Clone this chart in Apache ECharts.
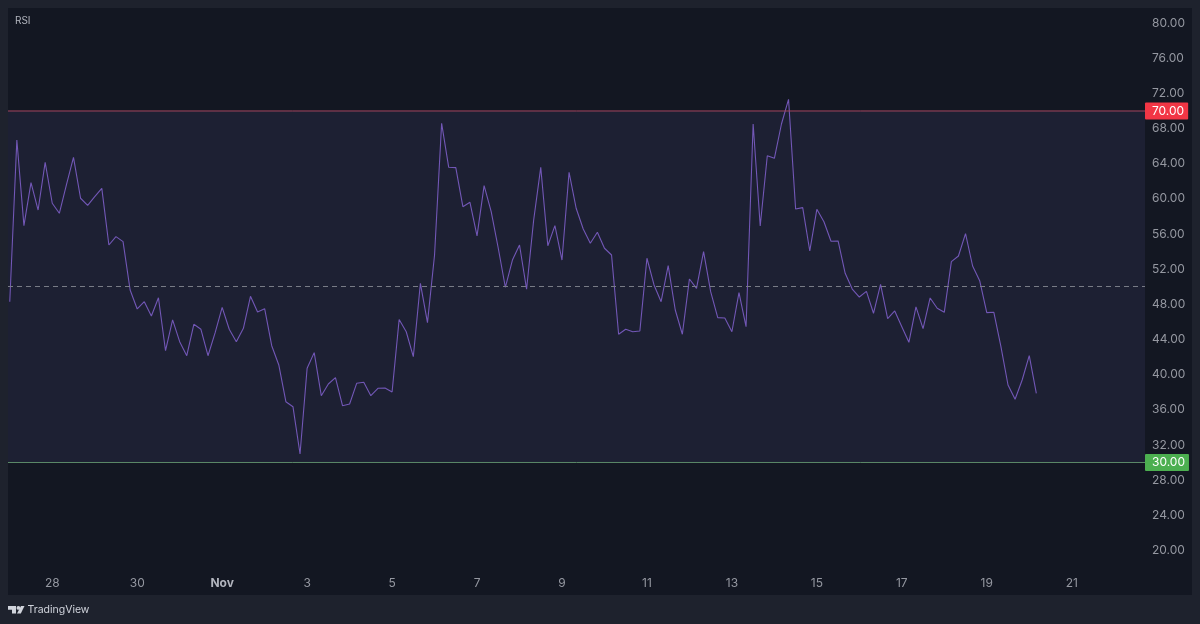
<!DOCTYPE html>
<html>
<head>
<meta charset="utf-8">
<style>
  html, body { margin: 0; padding: 0; background: #1e222d; }
  #chart { width: 1200px; height: 624px; }
</style>
<script src="https://cdn.jsdelivr.net/npm/echarts@6/dist/echarts.min.js"></script>
</head>
<body>
<div id="chart"></div>
<script>
// 4h bars, index 0 = Oct 27 00:00
const rsiValues = [
  48.30, 66.70, 56.95, 61.84, 58.73, 64.16, 59.50, 58.36, 61.58, 64.73,
  60.07, 59.27, 60.25, 61.20, 54.75, 55.70, 55.13, 49.63, 47.47, 48.30,
  46.67, 48.75, 42.72, 46.22, 43.75, 42.15, 45.73, 45.16, 42.15, 44.74,
  47.66, 45.16, 43.75, 45.27, 48.91, 47.13, 47.50, 43.29, 41.10, 36.92,
  36.35, 30.97, 40.72, 42.50, 37.60, 38.93, 39.65, 36.46, 36.66, 39.01,
  39.13, 37.60, 38.44, 38.48, 38.02, 46.27, 44.88, 42.04, 50.39, 45.91,
  53.61, 68.60, 63.59, 63.55, 59.11, 59.61, 55.78, 61.50, 58.54, 54.38,
  49.94, 53.04, 54.75, 49.71, 57.60, 63.59, 54.67, 56.95, 53.04, 63.02,
  58.93, 56.57, 54.94, 56.20, 54.38, 53.61, 44.59, 45.16, 44.88, 44.96,
  53.24, 50.20, 48.30, 52.40, 47.35, 44.59, 50.88, 49.82, 53.99, 49.44,
  46.48, 46.44, 44.88, 49.32, 45.45, 68.52, 56.91, 64.91, 64.62, 68.52,
  71.33, 58.85, 59.00, 54.07, 58.81, 57.40, 55.17, 55.21, 51.53, 49.74,
  48.83, 49.48, 46.98, 50.28, 46.36, 47.24, 45.45, 43.68, 47.70, 45.23,
  48.72, 47.55, 47.09, 52.85, 53.50, 56.04, 52.36, 50.69, 47.05, 47.09,
  43.18, 38.82, 37.19, 39.39, 42.15, 37.87
];
const dateTickIndex = [6, 18, 30, 42, 54, 66, 78, 90, 102, 114, 126, 138, 150];
const dateTickLabels = ['28', '30', 'Nov', '3', '5', '7', '9', '11', '13', '15', '17', '19', '21'];
const priceTicks = [20, 24, 28, 32, 36, 40, 44, 48, 52, 56, 60, 64, 68, 72, 76, 80];
const upperBand = 70;
const middleBand = 50;
const lowerBand = 30;
const xMin = -0.25;
const xMax = 160.35;

const myChart = echarts.init(document.getElementById('chart'), null, { renderer: 'canvas' });
const font = 'Inter';

// level line, the price badge sits on its right end
function levelSeries(value, color, badgeColor) {
  return {
    type: 'line',
    silent: true,
    clip: false,
    symbol: 'none',
    showSymbol: false,
    lineStyle: { color, width: 1 },
    data: [[xMin, value], [xMax, value]],
    endLabel: {
      show: true,
      distance: 0,
      formatter: value.toFixed(2),
      color: '#fff',
      fontFamily: font,
      fontSize: 12,
      lineHeight: 14,
      backgroundColor: badgeColor,
      borderRadius: 1,
      padding: [2, 4, 1, 7]
    }
  };
}

myChart.setOption({
  animation: false,
  backgroundColor: '#1e222d',
  graphic: [
    { type: 'rect', z: -10, silent: true, shape: { x: 8, y: 8, width: 1184, height: 587 }, style: { fill: '#131722' } },
    // TradingView mark
    { type: 'polygon', silent: true, shape: { points: [[8, 606], [16, 606], [16, 613.5], [12, 613.5], [12, 609.7], [8, 609.7]] }, style: { fill: '#d1d4dc' } },
    { type: 'circle', silent: true, shape: { cx: 18.4, cy: 607.9, r: 1.9 }, style: { fill: '#d1d4dc' } },
    { type: 'polygon', silent: true, shape: { points: [[21, 606], [24.5, 606], [20.8, 613.5], [17, 613.5]] }, style: { fill: '#d1d4dc' } },
    { type: 'text', silent: true, x: 27.5, y: 610, style: { text: 'TradingView', fill: '#d1d4dc', font: '10.5px Inter', textVerticalAlign: 'middle' } }
  ],
  title: {
    text: 'RSI',
    left: 15,
    top: 16,
    padding: 0,
    textStyle: { color: '#b2b5be', fontFamily: font, fontSize: 10, fontWeight: 'normal' }
  },
  grid: { left: 8, right: 55, top: 8, bottom: 29 },
  xAxis: {
    type: 'value',
    min: xMin,
    max: xMax,
    splitLine: { show: false },
    axisLine: { show: false },
    axisTick: { show: false },
    axisLabel: {
      inside: true,
      margin: 6,
      customValues: dateTickIndex,
      formatter: v => {
        const label = dateTickLabels[dateTickIndex.indexOf(v)];
        return label === 'Nov' ? '{b|Nov}' : label;
      },
      color: '#9598a1',
      fontFamily: font,
      fontSize: 12,
      rich: { b: { fontFamily: font, fontSize: 12, fontWeight: 'bold', color: '#b2b5be' } }
    }
  },
  yAxis: {
    type: 'value',
    position: 'right',
    min: 14.92,
    max: 81.72,
    splitLine: { show: false },
    axisLine: { show: false },
    axisTick: { show: false },
    axisLabel: {
      margin: 7,
      padding: [2, 0, 0, 0],
      customValues: priceTicks,
      formatter: v => v.toFixed(2),
      color: '#9598a1',
      fontFamily: font,
      fontSize: 12
    }
  },
  series: [
    {
      type: 'line',
      data: rsiValues.map((v, i) => [i, v]),
      showSymbol: false,
      symbol: 'none',
      lineStyle: { color: '#7257b6', width: 1.1 },
      markArea: {
        silent: true,
        itemStyle: { color: 'rgba(120,115,205,0.1)' },
        data: [[{ yAxis: upperBand }, { yAxis: lowerBand }]]
      },
      markLine: {
        silent: true,
        symbol: 'none',
        label: { show: false },
        lineStyle: { color: '#787b86', width: 1, type: [5, 4] },
        data: [{ yAxis: middleBand }]
      }
    },
    levelSeries(upperBand, '#a5455f', '#f23645'),
    levelSeries(lowerBand, '#5c8a68', '#4caf50')
  ]
});

window.onresize = function () {
  myChart.resize();
};
</script>
</body>
</html>
